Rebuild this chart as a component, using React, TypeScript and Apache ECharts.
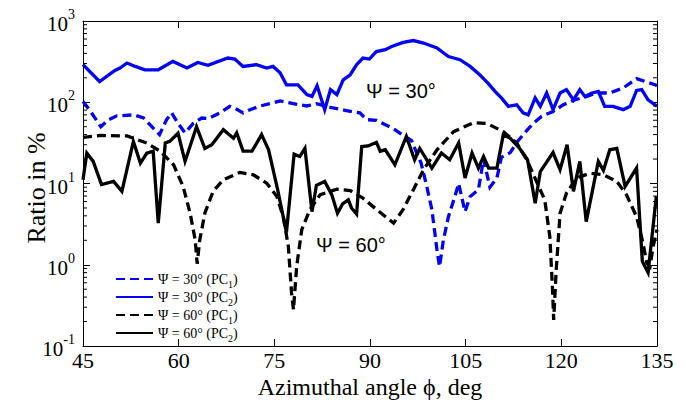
import { useEffect, useRef } from 'react';
import * as echarts from 'echarts';

// ---- Data (azimuthal angle in deg, ratio in %) ----
const PSI30_PC1_PHI = [45, 46, 47.8, 49, 50.3, 53, 54.5, 55.8, 57, 58.1, 58.9, 59.9, 61, 62.3, 63.6, 64.6, 66.5, 68, 69.1, 70.1, 71.2, 72.8, 74.8, 75.9, 78, 80.1, 81.6, 82.9, 84.2, 86.3, 88.4, 89.5, 91, 92.4, 93.9, 95.2, 96.5, 97.3, 98, 98.9, 99.7, 100.5, 100.9, 101.5, 102.3, 103.3, 103.9, 104.9, 105.7, 107, 107.8, 108.8, 109.9, 110.6, 112, 113, 114.6, 115.6, 116.9, 118.7, 120.3, 122.1, 124, 125.5, 127.6, 129.7, 131.8, 134.7, 135];
const PSI30_PC1_RATIO = [102, 81, 50, 61, 68, 70, 64, 50, 40, 61, 74, 55, 42, 55, 64, 63, 74, 89, 82, 74, 81, 90, 98, 104, 96, 90, 96, 90, 85, 79, 74, 61, 60, 53, 46, 39, 34, 24, 18, 9.2, 4.8, 1.53, 0.95, 2.0, 3.9, 6.9, 10, 4.5, 6.9, 8.4, 20, 9, 11.7, 21, 24, 32, 45, 55, 67, 77, 93, 107, 118, 130, 130, 150, 195, 164, 160];

const PSI30_PC2_PHI = [45, 47.6, 50, 50.8, 51.9, 53.2, 54.7, 56.8, 59.1, 61.3, 63, 64.6, 67.7, 68.8, 70.1, 72.2, 73.8, 74.8, 75.9, 76.9, 78.7, 80.1, 80.9, 81.7, 82.9, 83.8, 84.8, 85.8, 86.9, 87.9, 88.9, 89.9, 91, 92.4, 93.4, 95.2, 96.8, 98.4, 100.5, 102.3, 104.1, 105.7, 107.2, 108.5, 109.6, 110.6, 111.7, 113, 114, 114.8, 115.9, 116.7, 117.7, 118.7, 119.8, 120.8, 121.9, 122.9, 123.7, 124.8, 125.8, 126.8, 128.1, 129.7, 130.8, 131.8, 132.6, 133.6, 134.7, 135];
const PSI30_PC2_RATIO = [290, 180, 246, 264, 304, 276, 251, 251, 318, 264, 309, 285, 350, 340, 276, 290, 264, 276, 231, 164, 164, 124, 118, 160, 81, 143, 124, 189, 218, 290, 350, 340, 420, 443, 486, 545, 575, 535, 465, 366, 334, 276, 218, 172, 136, 113, 89, 93, 74, 70, 113, 89, 130, 81, 130, 143, 107, 143, 118, 130, 136, 89, 89, 81, 89, 140, 143, 107, 93, 90];

const PSI60_PC1_PHI = [45, 47.7, 51.9, 55, 57.1, 59.2, 60.7, 61.8, 62.6, 62.9, 63.3, 64.1, 65.4, 67, 69.6, 71.7, 73.8, 75.4, 76.4, 77.2, 77.7, 78, 78.5, 79.3, 80.6, 82.2, 84.8, 86.9, 88.9, 91.3, 93.7, 95.2, 96.8, 98.4, 100.5, 103.1, 106.2, 108.3, 110.9, 113, 114.6, 116.1, 117.4, 118.2, 118.6, 118.8, 119.2, 119.8, 120.8, 122.4, 124.5, 126.6, 128.7, 130.2, 131.8, 132.8, 133.4, 133.9, 134.4, 135];
const PSI60_PC1_RATIO = [37, 39, 38.5, 31.5, 25, 17, 9.2, 4.3, 2.0, 1.03, 2.0, 4.3, 8, 11.1, 13.7, 12.8, 10.1, 6.9, 3.9, 1.68, 0.45, 0.28, 0.95, 2.7, 4.8, 7.3, 8.5, 8.2, 6.6, 4.6, 3.25, 4.8, 8.4, 14.8, 26, 43.5, 56, 55, 43.5, 31.5, 19.6, 10.6, 6.3, 2.2, 0.54, 0.21, 0.87, 4.3, 7.6, 11.7, 13.4, 12.8, 10.6, 7.3, 3.9, 1.85, 1.05, 0.95, 1.68, 2.7];

const PSI60_PC2_PHI = [45, 45.6, 46.6, 47.9, 49.8, 51.1, 52.9, 54, 55, 56, 56.8, 57.9, 58.6, 59.9, 61, 62.8, 64.1, 65.2, 67, 68.6, 69.1, 70.1, 71.5, 73, 74.1, 75.5, 76.9, 78.1, 79, 79.8, 80.9, 81.6, 82.9, 84, 84.9, 85.7, 86.6, 87.1, 87.9, 88.7, 89.7, 91, 91.6, 92.4, 93.9, 95.7, 97, 97.8, 99.7, 101.2, 102.5, 103.9, 104.9, 106, 107, 107.8, 108.6, 109.9, 110.9, 112, 113.3, 114.7, 115.9, 116.7, 118.7, 119.8, 120.9, 121.9, 122.9, 123.9, 125.8, 126.6, 127.6, 128.7, 130, 131.8, 132.7, 133.6, 134.9];
const PSI60_PC2_RATIO = [11.1, 23.7, 18.7, 9.7, 10.6, 8, 33, 17.8, 23.7, 25, 3.25, 31.5, 33, 41.5, 18.7, 50, 27, 30, 46, 36, 42, 25, 25, 40, 26, 8.5, 2.5, 23, 21.5, 27, 4.5, 9.5, 10.6, 7.3, 4.3, 5.6, 6.3, 5, 4.2, 28.5, 29, 32, 25, 26, 17, 38, 19.6, 27, 15.5, 23.7, 19.6, 31.5, 11.7, 23.7, 15.5, 21.5, 15.5, 15.5, 40, 36, 28, 19.6, 5.7, 14, 24, 14.8, 30, 8, 18.7, 3.4, 18.7, 14.5, 26, 27, 9.2, 15.5, 1.1, 0.8, 7];

const SERIES_NAMES = ['Ψ = 30° (PC1)', 'Ψ = 30° (PC2)', 'Ψ = 60° (PC1)', 'Ψ = 60° (PC2)'];

// axis setup
const X_MIN = 45;
const X_MAX = 135;
const X_INTERVAL = 15;
const Y_MIN = 0.1;
const Y_MAX = 1000;
const MINOR_MULTIPLIERS = [2, 3, 4, 5, 6, 7, 8, 9];
const DECADES = [0.1, 1, 10, 100];

const SERIF = '"Liberation Serif", "Times New Roman", serif';
const SANS = '"Liberation Sans", Arial, sans-serif';

function pairs(xs: number[], ys: number[]) {
  return xs.map((x, i) => [x, ys[i]]);
}

export default function App() {
  const ref = useRef<HTMLDivElement>(null);

  useEffect(() => {
    if (!ref.current) return;
    const chart = echarts.init(ref.current, null, { renderer: 'svg' });

    const minorTicks: number[][] = [];
    DECADES.forEach((d) => MINOR_MULTIPLIERS.forEach((m) => minorTicks.push([X_MIN, d * m])));

    const axisLine = { show: true, lineStyle: { color: '#000', width: 1 } };
    const axisTick = { show: true, inside: true, length: 7, lineStyle: { color: '#000', width: 1 } };

    const lineBase = (name: string, data: number[][], color: string, dashed: boolean) => ({
      name,
      type: 'line',
      data,
      symbol: 'none',
      showSymbol: false,
      xAxisIndex: 0,
      yAxisIndex: 0,
      lineStyle: {
        color,
        width: 3.3,
        type: dashed ? [9, 5] : 'solid',
        join: 'miter',
        miterLimit: 4,
      },
      itemStyle: { color },
      z: 3,
    });

    const option: any = {
      animation: false,
      backgroundColor: '#fff',
      grid: { left: 83, right: 29, top: 21, bottom: 54, containLabel: false },
      xAxis: [
        {
          type: 'value', min: X_MIN, max: X_MAX, interval: X_INTERVAL, position: 'bottom',
          axisLine, axisTick,
          axisLabel: { color: '#000', fontFamily: SERIF, fontSize: 22, margin: 3 },
          splitLine: { show: false },
        },
        {
          type: 'value', min: X_MIN, max: X_MAX, interval: X_INTERVAL, position: 'top',
          axisLine, axisTick, axisLabel: { show: false }, splitLine: { show: false },
        },
      ],
      yAxis: [
        {
          type: 'log', logBase: 10, min: Y_MIN, max: Y_MAX, position: 'left',
          axisLine, axisTick,
          axisLabel: {
            margin: 8,
            formatter: (v: number) => `{b|10}{s|${Math.round(Math.log10(v))}}`,
            rich: {
              b: { fontFamily: SERIF, fontSize: 21, color: '#000', padding: [6, 0, 0, 0] },
              s: { fontFamily: SERIF, fontSize: 14, color: '#000', verticalAlign: 'top' },
            },
          },
          splitLine: { show: false },
        },
        {
          type: 'log', logBase: 10, min: Y_MIN, max: Y_MAX, position: 'right',
          axisLine, axisTick, axisLabel: { show: false }, splitLine: { show: false },
        },
      ],
      legend: {
        data: SERIES_NAMES,
        orient: 'vertical',
        left: 110,
        top: 267,
        itemWidth: 37,
        itemHeight: 12,
        itemGap: 1,
        selectedMode: false,
        itemStyle: { opacity: 0 },
        formatter: (name: string) => {
          const m = name.match(/^(.*\(PC)(\d)(\))$/);
          return m ? `{t|${m[1]}}{s|${m[2]}}{t|${m[3]}}` : name;
        },
        textStyle: {
          color: '#000',
          fontFamily: SERIF,
          fontSize: 14,
          rich: {
            t: { fontFamily: SERIF, fontSize: 14, color: '#000', lineHeight: 16 },
            s: { fontFamily: SERIF, fontSize: 10, color: '#000', height: 6, lineHeight: 6, verticalAlign: 'bottom' },
          },
        },
      },
      series: [
        lineBase(SERIES_NAMES[0], pairs(PSI30_PC1_PHI, PSI30_PC1_RATIO), '#0000ff', true),
        lineBase(SERIES_NAMES[1], pairs(PSI30_PC2_PHI, PSI30_PC2_RATIO), '#0000ff', false),
        lineBase(SERIES_NAMES[2], pairs(PSI60_PC1_PHI, PSI60_PC1_RATIO), '#000000', true),
        lineBase(SERIES_NAMES[3], pairs(PSI60_PC2_PHI, PSI60_PC2_RATIO), '#000000', false),
        {
          name: 'minorTicks',
          type: 'custom',
          xAxisIndex: 0,
          yAxisIndex: 0,
          silent: true,
          clip: false,
          z: 5,
          data: minorTicks,
          encode: { x: 0, y: 1 },
          renderItem: (_params: any, api: any) => {
            const v = api.value(1);
            const l = api.coord([X_MIN, v]);
            const r = api.coord([X_MAX, v]);
            const style = { stroke: '#000', lineWidth: 1 };
            return {
              type: 'group',
              children: [
                { type: 'line', shape: { x1: l[0], y1: l[1], x2: l[0] + 4, y2: l[1] }, style },
                { type: 'line', shape: { x1: r[0] - 4, y1: r[1], x2: r[0], y2: r[1] }, style },
              ],
            };
          },
        },
      ],
      graphic: [
        {
          type: 'text', x: 366, y: 91,
          style: { text: 'Ψ = 30°', font: `20px ${SANS}`, fill: '#000', textAlign: 'left', textVerticalAlign: 'middle' },
        },
        {
          type: 'text', x: 316, y: 245,
          style: { text: 'Ψ = 60°', font: `20px ${SANS}`, fill: '#000', textAlign: 'left', textVerticalAlign: 'middle' },
        },
        {
          type: 'text', x: 36, y: 188, rotation: Math.PI / 2,
          style: { text: 'Ratio in %', font: `26px ${SERIF}`, fill: '#000', textAlign: 'center', textVerticalAlign: 'middle' },
        },
        {
          type: 'text', x: 370, y: 387,
          style: { text: 'Azimuthal angle ϕ, deg', font: `24px ${SERIF}`, fill: '#000', textAlign: 'center', textVerticalAlign: 'middle' },
        },
      ],
    };

    chart.setOption(option);
    return () => chart.dispose();
  }, []);

  return (
    <div
      ref={ref}
      style={{ position: 'fixed', left: 0, top: 0, width: 686, height: 400, background: '#fff' }}
    />
  );
}
